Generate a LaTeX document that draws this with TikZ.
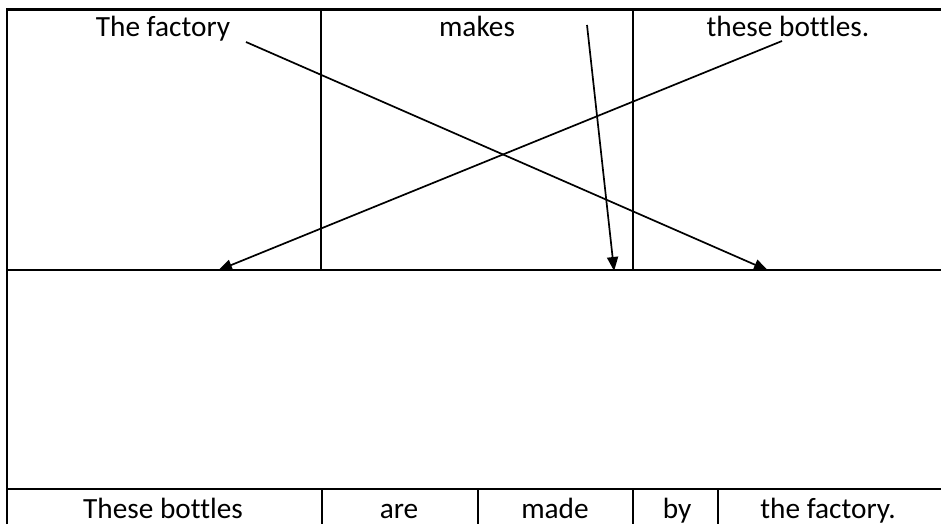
\documentclass[tikz,border=0pt]{standalone}
\usepackage{fontspec}
\setmainfont{Carlito}[Ligatures=NoCommon]
\usetikzlibrary{arrows.meta}
\begin{document}
\begin{tikzpicture}[x=1pt,y=-1pt,
  rule/.style={line width=2.4pt},
  word/.style={font=\fontsize{29.3}{35}\selectfont, inner sep=0pt, anchor=base},
  link/.style={line width=1.7pt, -{Triangle[length=14pt,width=11pt]}, shorten >=-1pt}]
\useasboundingbox (0,0) rectangle (941,524);
% frame
\draw[rule] (7,524) -- (7,9.5) -- (941,9.5);
\draw[rule] (7,270) -- (941,270);
\draw[rule] (7,489) -- (941,489);
\draw[rule] (321,9.5) -- (321,270);
\draw[rule] (633,9.5) -- (633,270);
\foreach \x in {322,478,633,718} \draw[rule] (\x,489) -- (\x,524);
% top words
\node[word] (tf) at (163,37) {The factory};
\node[word] (mk) at (477,37) {makes};
\node[word] (tb) at (788,37) {these bottles.};
% bottom words
\node[word] (b1) at (163,518) {These bottles};
\node[word] (b2) at (399,518) {are};
\node[word] (b3) at (555,518) {made};
\node[word] (b4) at (677,518) {by};
\node[word] (b5) at (828,518) {the factory.};
% arrow endpoints
\coordinate (s1) at (246,42);
\coordinate (e1) at (767,270);
\coordinate (s2) at (587,25);
\coordinate (e2) at (614,270);
\coordinate (s3) at (782,41);
\coordinate (e3) at (219,270);
\draw[link] (s1) -- (e1);
\draw[link] (s2) -- (e2);
\draw[link] (s3) -- (e3);
\end{tikzpicture}
\end{document}
